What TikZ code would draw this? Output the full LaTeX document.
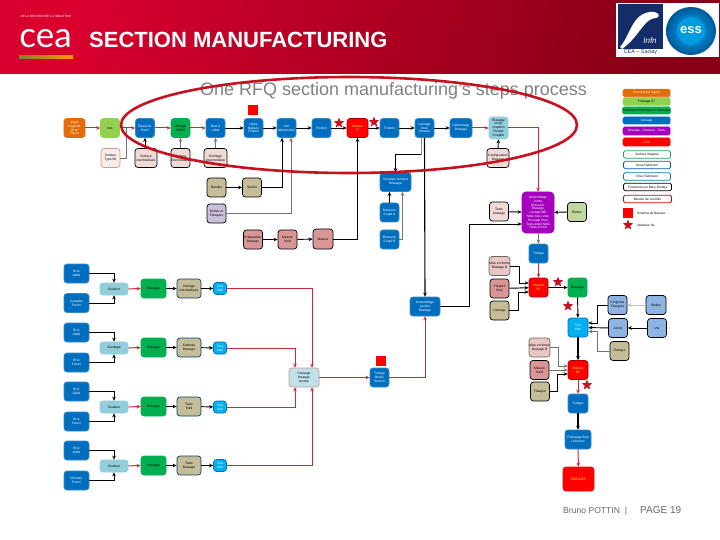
\documentclass[tikz,border=0pt]{standalone}
\usepackage{fontspec}
\setmainfont{Liberation Sans}
\newfontfamily\logofont{Lato}
\usetikzlibrary{positioning,arrows.meta,shapes.geometric}
\definecolor{hdrA}{RGB}{218,0,45}
\definecolor{hdrB}{RGB}{135,0,22}
\definecolor{cblue}{RGB}{0,110,190}
\definecolor{cgreen}{RGB}{0,176,80}
\definecolor{clime}{RGB}{146,208,80}
\definecolor{corange}{RGB}{227,108,10}
\definecolor{cpurple}{RGB}{165,0,190}
\definecolor{ctan}{RGB}{196,189,151}
\definecolor{crose}{RGB}{217,150,148}
\definecolor{cpink}{RGB}{240,218,216}
\definecolor{clav}{RGB}{204,193,218}
\definecolor{colive}{RGB}{195,214,155}
\definecolor{csky}{RGB}{146,205,220}
\definecolor{ccyan}{RGB}{0,176,240}
\definecolor{csteel}{RGB}{141,180,226}
\definecolor{cline}{RGB}{205,40,55}
\definecolor{cring}{RGB}{200,16,30}
\definecolor{cinfn}{RGB}{20,45,105}
\begin{document}
\begin{tikzpicture}[x=1pt,y=-1pt,>={Stealth[length=4pt,width=3.6pt]},
  box/.style={draw,line width=0.7pt,rounded corners=3pt,inner sep=0pt,align=center,minimum width=19pt,minimum height=19pt,font=\fontsize{3.3}{3.8}\selectfont},
  blueb/.style={box,fill=cblue,draw=cblue!80!white,text=white},
  greenb/.style={box,fill=cgreen,draw=cgreen},
  redb/.style={box,fill=red,draw=red!70!black,text=yellow},
  tanb/.style={box,fill=ctan,draw=black},
  roseb/.style={box,fill=crose,draw=black},
  pinkb/.style={box,fill=cpink,draw=black},
  skyb/.style={box,fill=csky,draw=csky,minimum width=28pt,minimum height=12pt},
  smallb/.style={box,fill=ccyan,draw=cblue,text=white,minimum width=13pt,minimum height=12pt},
  steelb/.style={box,fill=csteel,draw=black},
  legend/.style={box,minimum width=47pt,minimum height=7.5pt,rounded corners=1.5pt,font=\fontsize{3.2}{3.6}\selectfont},
  redstar/.style={star,star points=5,star point ratio=2.3,fill=cring,inner sep=0pt,minimum size=11pt},
  redsq/.style={fill=red,inner sep=0pt,minimum size=10pt},
  lnk/.style={->,line width=0.95pt},
  gry/.style={->,line width=0.95pt,draw=black!55},
  red line/.style={->,line width=1pt,draw=cline}]
  \useasboundingbox (0,0) rectangle (720,540);
  \shade[left color=hdrA,right color=hdrB,shading angle=72] (0,0) rectangle (720,74);
  \shade[left color=black!50!yellow!60!gray,right color=orange!80!yellow] (19,56) rectangle (73,59);
  \node[text=white,font=\fontsize{3}{3.4}\selectfont] (tagline) at (46,16) {DE LA RECHERCHE À L'INDUSTRIE};
  \node[text=white,font=\logofont\fontsize{35}{35}\selectfont,inner sep=0pt] (cealogo) at (45.5,39) {cea};
  \node[text=white,font=\fontsize{22}{24}\selectfont\bfseries,anchor=west,inner sep=0pt] (title) at (89,40) {SECTION MANUFACTURING};
  \node[text=black!50,font=\fontsize{18}{20}\selectfont,inner sep=0pt] (subtitle) at (393.5,91) {One RFQ section manufacturing's steps process};

  \fill[white] (616,3) rectangle (719,57);
  \fill[cinfn] (618,4) rectangle (663,49);
  \fill[white] (620,47) .. controls (630,36) and (632,14) .. (650,12) .. controls (658,11) and (662,16) .. (656,18) .. controls (644,18) and (640,36) .. (622,49) -- cycle;
  \node[text=white,font=\fontsize{8}{9}\selectfont\itshape,inner sep=0pt] (infn) at (650,41) {Infn};
  \node[text=cinfn,font=\fontsize{5.4}{6}\selectfont,inner sep=0pt] (saclay) at (640.5,52.3) {CEA -- Saclay};
  \shade[inner color=cyan!70!blue,outer color=cblue!80!black] (691,31) ellipse (25 and 24);
  \fill[ccyan!70!cblue] (691,31) circle (14);
  \node[text=white,font=\fontsize{13}{14}\selectfont\bfseries,inner sep=0pt] (esslogo) at (691,30) {ess};

  \node[box,fill=corange,draw=corange,text=white,minimum width=21pt] (ingot) at (74.5,128) {Ingot\\forgé de\\Brut\\Fourni};
  \node[box,fill=clime,draw=clime] (gef) at (110,128) {test};
  \node[blueb] (ebauche) at (145,128) {Ebauche\\Demi};
  \node[greenb] (usine) at (180.5,128) {Usinage\\SDMS};
  \node[blueb] (brut) at (215.5,128) {Brut à\\cable};
  \node[blueb] (balises) at (253.5,128) {Usine\\Balises\\Finition};
  \node[blueb] (ctrl) at (286.5,128) {Ctrl\\dimensions};
  \node[blueb] (fin1) at (321.5,128) {Finition};
  \node[redb,minimum width=21pt] (mesif) at (357.5,128) {Mesure\\IF};
  \node[blueb] (fin2) at (389.5,128) {Finition};
  \node[blueb] (final) at (424.5,128) {Usinage\\final\\Mesure};
  \node[blueb,minimum width=22pt] (demont) at (461,128) {Démontage\\Brasage};
  \node[box,fill=csky,draw=csky,minimum height=22pt] (union) at (498.5,128) {Brasage\\union\\couplers\\Pusher\\Coupler};

  \node[box,fill=cpink!50!white,draw=crose] (surfa) at (110.5,158) {Surface\\Type B2};
  \node[pinkb,minimum width=22pt] (surfb) at (146,158) {Surface\\intermédiaire};
  \node[pinkb] (surfc) at (180.5,158) {Surface\\intermédiaire};
  \node[pinkb,minimum width=23pt] (outil) at (215.5,158) {Outillage\\intermédiaire};
  \node[pinkb,minimum width=22pt] (config) at (498,158) {Configuration\\Brasage};

  \node[tanb] (bandes) at (216.5,187.5) {Bandes};
  \node[tanb] (stocks) at (252,187.5) {Stocks};
  \node[box,fill=clav,draw=black] (brides) at (216.5,213.5) {Brides et\\Flasques};
  \node[roseb] (prep) at (253,239.5) {Préparation\\brasage};
  \node[roseb] (froid) at (287.5,239.5) {Mesure\\froid};
  \node[roseb,minimum width=20pt,minimum height=20pt] (mesure) at (323,239) {Mesure};

  \node[blueb,minimum width=31pt] (synergie) at (395.5,182) {Synergie surface\\Brasage};
  \node[blueb] (coupla) at (389.5,212.5) {Brasures\\Coupl A};
  \node[blueb] (couplb) at (389.5,239.5) {Brasures\\Coupl B};

  \node[pinkb] (tests) at (499,211.5) {Tests\\brasage};
  \node[box,fill=cpurple,draw=cpurple,text=white,minimum width=32pt,minimum height=41pt,rounded corners=4pt] (assemb) at (538,212.5) {Assemblage\\Joints\\Brasures\\Brasage\\Lavage ME\\Mise sous vide\\Etuvage final\\Tests étanchéité\\Tests à froid};
  \node[box,fill=colive,draw=black] (bride) at (577,212) {Brides};

  \node[blueb] (tuile) at (538.5,253.5) {Tuilage};
  \node[box,fill=cpink!70!crose,draw=black!60] (pinka) at (499.5,266) {Mise en forme\\Brasage B};
  \node[roseb] (rosea) at (499.5,288.5) {Préparé\\final};
  \node[tanb] (tana) at (499.5,310.5) {Usinage};
  \node[redb] (mesa) at (538.5,287.5) {Mesure\\RF};
  \node[greenb] (brasa) at (577.5,287.5) {Brasage};
  \node[box,fill=ccyan,draw=cblue,text=white,minimum width=20pt] (cyana) at (578,327.5) {Test\\vide};
  \node[steelb] (steela) at (617.5,305) {Conjoints\\Flasques};
  \node[steelb,minimum width=20pt] (steelb) at (656,305) {Brides};
  \node[steelb] (steelc) at (618,328) {Joints};
  \node[steelb] (steeld) at (657,328) {Vis};
  \node[tanb] (tanb) at (619.5,351) {Flasque};
  \node[box,fill=cpink!70!crose,draw=black!60] (pinkc) at (539.5,347.5) {Mise en forme\\Brasage B};
  \node[roseb] (rosec) at (539.5,370) {Mesure\\froid};
  \node[tanb] (tanc) at (540,391.5) {Flasque};
  \node[redb,minimum width=20pt] (mesb) at (578,370) {Mesure\\RF};
  \node[blueb,minimum width=20pt] (tuila) at (578,403.5) {Tuilage};
  \node[blueb,minimum width=26pt] (polish) at (578,439.5) {Polissage final\\Livraison};
  \node[box,fill=red,draw=red,text=yellow,minimum width=31pt,minimum height=24pt,font=\fontsize{4}{4.5}\selectfont] (saclaybox) at (578.5,479) {SACLAY};

  \node[blueb,minimum width=25pt] (ala) at (76.5,273.5) {Brut\\câble};
  \node[blueb,minimum width=25pt] (alb) at (76.5,303) {Couplers\\Fourni};
  \node[blueb,minimum width=25pt] (bla) at (76.5,332.5) {Brut\\câble};
  \node[blueb,minimum width=25pt] (blb) at (76.5,362.5) {Brut\\Fourni};
  \node[blueb,minimum width=25pt] (cla) at (76.5,391.5) {Brut\\câble};
  \node[blueb,minimum width=25pt] (clb) at (76.5,421.5) {Brut\\Fourni};
  \node[blueb,minimum width=25pt] (dla) at (76.5,450.5) {Brut\\câble};
  \node[blueb,minimum width=25pt] (dlb) at (76.5,480.5) {Monture\\Fourni};
  \node[skyb] (ska) at (114,289) {Soudure};
  \node[skyb] (skb) at (114,348) {Soudage};
  \node[skyb] (skc) at (114,407) {Soudure};
  \node[skyb] (skd) at (114,466) {Soudure};
  \node[greenb,minimum width=25pt] (gra) at (153.5,288.5) {Brasage};
  \node[greenb,minimum width=25pt] (grb) at (153.5,347.5) {Brasage};
  \node[greenb,minimum width=25pt] (grc) at (153.5,406.5) {Brasage};
  \node[greenb,minimum width=25pt] (grd) at (153.5,465.5) {Brasage};
  \node[tanb,draw=cblue!60!black,minimum width=24pt] (tca) at (189,288.5) {Usinage\\intermédiaire};
  \node[tanb,draw=cblue!60!black,minimum width=24pt] (tcb) at (189,347.5) {Cathode\\Brasage};
  \node[tanb,draw=cblue!60!black,minimum width=24pt] (tcc) at (189,406.5) {Tests\\froid};
  \node[tanb,draw=cblue!60!black,minimum width=24pt] (tcd) at (189,465.5) {Tests\\Brasage};
  \node[smallb] (sma) at (220,288.5) {Test\\vide};
  \node[smallb] (smb) at (220,348) {Test\\vide};
  \node[smallb] (smc) at (220,407) {Test\\vide};
  \node[smallb] (smd) at (220,465.5) {Test\\vide};
  \node[box,fill=csky!60!white,draw=crose,minimum width=30pt] (pkg) at (304,377.5) {Package\\brasage\\section};
  \node[blueb] (tuile2) at (379.5,377.5) {Tuilage\\Brasé\\Section};
  \node[blueb,minimum width=30pt] (bigblue) at (425,306.5) {Assemblage\\section\\Brasage};

  \node[legend,fill=corange,draw=corange,text=white] (lga) at (646.5,93) {Fournisseur Ingots};
  \node[legend,fill=clime,draw=clime] (lgb) at (646.5,101.5) {Fraisage 5T};
  \node[legend,fill=cgreen,draw=cgreen,minimum height=7pt] (lgc) at (646.5,110.5) {Traitement thermique ou Brasage};
  \node[legend,fill=cblue,draw=cblue,text=white,minimum height=7pt] (lgd) at (646.5,120.5) {Usinage};
  \node[legend,fill=cpurple,draw=cpurple,text=white,minimum height=8pt] (lge) at (646.5,131) {Brasage - Soudure - Tests};
  \node[legend,fill=red,draw=red,text=yellow,minimum height=8pt] (lgf) at (646.5,142) {CEA};
  \node[legend,fill=white,draw=cgreen!70!gray] (lgg) at (647,154.5) {Surface intégrée};
  \node[legend,fill=white,draw=cgreen!50!blue] (lgh) at (647,165) {Sous Fabricant};
  \node[legend,fill=white,draw=cblue!70!cgreen] (lgi) at (647,176.5) {Chez Fabricant};
  \node[legend,fill=white,draw=black,minimum width=48pt] (lgj) at (647.5,187) {Fourniture sur Banc Etudes};
  \node[legend,fill=white,draw=red!85!black,minimum width=48pt] (lgk) at (647.5,199) {Mesure de contrôle};
  \node[redsq] (lgsq) at (628,213.5) {};
  \node[anchor=west,inner sep=0pt,font=\fontsize{3.2}{4}\selectfont] (lgsqtxt) at (637,213.5) {Schéma de Brasure};
  \node[redstar] (lgst) at (628,225) {};
  \node[anchor=west,inner sep=0pt,font=\fontsize{3}{4}\selectfont] (lgsttxt) at (637,225) {Validation file};

  \node[redsq] (sqa) at (253,110) {};
  \node[redsq] (sqb) at (381,360.5) {};
  \node[redstar] (sta) at (339,123) {};
  \node[redstar] (stb) at (374,122) {};
  \node[redstar] (stc) at (558,282) {};
  \node[redstar] (std) at (568,306) {};
  \node[redstar] (ste) at (587,385) {};

  \coordinate (jn) at (126,128);
  \draw[red line] (ingot) -- (gef);
  \draw[red line] (gef) -- (ebauche);
  \draw[red line] (ebauche) -- (usine);
  \draw[red line] (usine) -- (brut);
  \draw[lnk] (brut) -- (balises);
  \draw[lnk] (balises) -- (ctrl);
  \draw[lnk] (ctrl) -- (fin1);
  \draw[lnk] (fin1) -- (mesif);
  \draw[lnk] (mesif) -- (fin2);
  \draw[lnk] (fin2) -- (final);
  \draw[lnk] (final) -- (demont);
  \draw[red line] (demont) -- (union);
  \draw[red line] (union.east) -| (assemb.north);
  \draw[lnk] (config) -- (union);
  \draw[line width=0.95pt,draw=black!55] (surfa.east) -| (jn);
  \draw[lnk] (surfb.north -| ebauche) -- (ebauche);
  \draw[gry] (surfc) -- (usine);
  \draw[gry] (outil) -- (brut);
  \draw[lnk] (bandes) -- (stocks);
  \draw[lnk] (stocks.east) -| ([xshift=-4.5pt]ctrl.south);
  \draw[gry] (brides.east) -| ([xshift=4.5pt]ctrl.south);
  \draw[lnk] (prep) -- (froid);
  \draw[lnk] (froid) -- (mesure);
  \draw[lnk] (mesure.east) -| (mesif.south);
  \draw[line width=0.95pt,draw=black!45] ([xshift=-3.5pt]final.south) -- ++(0,17);
  \draw[lnk] ([xshift=-3.5pt,yshift=-17pt]final.south) -| (synergie.north);
  \draw[lnk,line width=1.1pt] (final.south) -- (bigblue.north);
  \draw[lnk] (coupla.north) -- (coupla.north |- synergie.south);
  \draw[gry] (couplb.east) -| ([xshift=7pt]synergie.south);
  \draw[lnk] (bigblue.east) -- ++(29.5,0) |- ([yshift=-11.5pt]assemb.west);
  \draw[lnk] (tests) -- (assemb);
  \draw[lnk] (bride) -- (assemb);
  \draw[gry] (assemb) -- (tuile);
  \draw[red line] (tuile) -- (mesa);
  \draw[lnk] (pinka.east) -- ++(9,0) |- ([yshift=4.5pt]mesa.west);
  \draw[lnk] (rosea) -- (mesa);
  \draw[lnk] (tana.east) -- ++(9,0) |- ([yshift=-4.5pt]mesa.west);
  \draw[lnk] (mesa) -- (brasa);
  \draw[lnk] (brasa) -- (cyana);
  \draw[lnk] (steela.west) -- ++(-10,0) |- ([yshift=4.5pt]cyana.east);
  \draw[lnk] (steelc) -- (cyana);
  \draw[gry] (tanb.west) -- ++(-12,0) |- ([yshift=-4pt]cyana.east);
  \draw[->,line width=0.95pt,draw=black!25] (steelb) -- (steela);
  \draw[lnk] (steeld) -- (steelc);
  \draw[lnk,line width=1.1pt] (cyana) -- (mesb);
  \draw[gry] (pinkc.east) -- ++(8.5,0) |- ([yshift=4pt]mesb.west);
  \draw[gry] (rosec) -- (mesb);
  \draw[lnk] (tanc.east) -- ++(8,0) |- ([yshift=-4pt]mesb.west);
  \draw[red line] (mesb) -- (tuila);
  \draw[lnk,line width=1.1pt] (tuila) -- (polish);
  \draw[red line] (polish) -- (saclaybox);

  \draw[lnk] (ala.east) -| (ska.north);
  \draw[lnk] (alb.east) -| (ska.south);
  \draw[lnk] (bla.east) -| (skb.north);
  \draw[lnk] (blb.east) -| (skb.south);
  \draw[lnk] (cla.east) -| (skc.north);
  \draw[lnk] (clb.east) -| (skc.south);
  \draw[lnk] (dla.east) -| (skd.north);
  \draw[lnk] (dlb.east) -| (skd.south);
  \draw[red line] (ska) -- (gra);
  \draw[red line] (skb) -- (grb);
  \draw[red line] (skc) -- (grc);
  \draw[red line] (skd) -- (grd);
  \draw[lnk] (gra) -- (tca);
  \draw[lnk] (grb) -- (tcb);
  \draw[lnk] (grc) -- (tcc);
  \draw[lnk] (grd) -- (tcd);
  \draw[lnk] (tca) -- (sma);
  \draw[lnk] (tcb) -- (smb);
  \draw[lnk] (tcc) -- (smc);
  \draw[lnk] (tcd) -- (smd);
  \draw[red line] (sma.east) -| ([xshift=8pt]pkg.north);
  \draw[red line] (smb.east) -| ([xshift=-9pt]pkg.north);
  \draw[red line] (smc.east) -| ([xshift=-9pt]pkg.south);
  \draw[red line] (smd.east) -| ([xshift=8pt]pkg.south);
  \draw[red line] (pkg) -- (tuile2);
  \draw[red line] (tuile2.east) -| (bigblue.south);

  \node[anchor=west,inner sep=0pt,text=black!60,font=\fontsize{8.6}{10}\selectfont] (author) at (563,511) {Bruno POTTIN~~|};
  \node[anchor=west,inner sep=0pt,text=black!60,font=\fontsize{10}{11}\selectfont] (page) at (640,510) {PAGE 19};
  \draw[cring,line width=2.6pt] (349,125) ellipse (228 and 48);
\end{tikzpicture}
\end{document}
